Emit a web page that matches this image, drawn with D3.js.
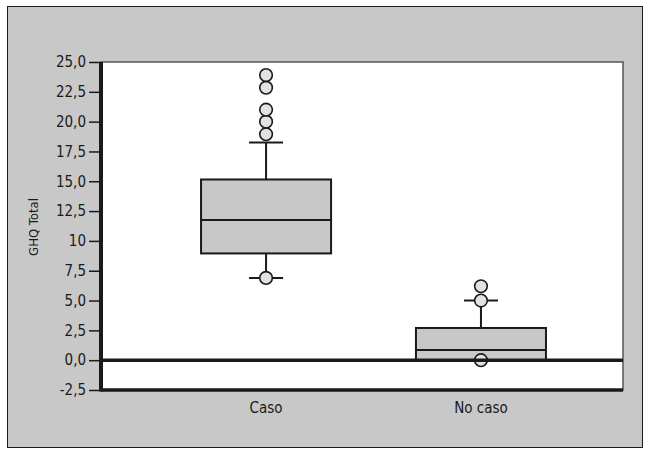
<!DOCTYPE html>
<html>
<head>
<meta charset="utf-8">
<script src="https://cdn.jsdelivr.net/npm/d3@7"></script>
<style>
    body { margin: 0; background: #fff; }
    svg text { font-family: "DejaVu Sans", sans-serif; font-stretch: condensed; fill: #1a1a1a; }
</style>
</head>
<body>
<div id="chart"></div>
<script>
// groups and their box statistics (GHQ Total)
var categories = ['Caso', 'No caso'];
var q1 = [8.95, 0.0];
var median = [11.75, 0.85];
var q3 = [15.15, 2.7];
var whisker_low = [6.9, 0.0];
var whisker_high = [18.25, 5.0];
var outliers = [
    [6.9, 18.95, 20.0, 21.0, 22.85, 23.9],
    [0.0, 5.0, 6.2]
];
var y_ticks = [-2.5, 0, 2.5, 5, 7.5, 10, 12.5, 15, 17.5, 20, 22.5, 25];
var y_tick_labels = ['-2,5', '0,0', '2,5', '5,0', '7,5', '10', '12,5', '15,0', '17,5', '20,0', '22,5', '25,0'];
var y_label = 'GHQ Total';

var width = 651;
var height = 451;
var padding = {top: 62, bottom: 61, left: 101, right: 28};

var data = categories.map(function(c, i) {
    return {name: c, q1: q1[i], median: median[i], q3: q3[i],
            lo: whisker_low[i], hi: whisker_high[i], out: outliers[i]};
});

var svg = d3.select('#chart').append('svg')
    .attr('width', width)
    .attr('height', height);

// outer panel
svg.append('rect')
    .attr('x', 7.5).attr('y', 6.5)
    .attr('width', 635).attr('height', 441)
    .attr('fill', '#c8c8c8')
    .attr('stroke', '#1a1a1a')
    .attr('stroke-width', 1);

var x_scale = d3.scaleBand()
    .range([padding.left, width - padding.right])
    .domain(categories)
    .paddingInner(0.395)
    .paddingOuter(0.412)
    .align(0.565);

var y_scale = d3.scaleLinear()
    .range([height - padding.bottom, padding.top])
    .domain([-2.5, 25]);

// plot area
svg.append('rect')
    .attr('x', padding.left)
    .attr('y', padding.top)
    .attr('width', width - padding.right - padding.left)
    .attr('height', height - padding.bottom - padding.top)
    .attr('fill', '#fff')
    .attr('stroke', '#555')
    .attr('stroke-width', 1.5);

// y axis
var y_axis = d3.axisLeft(y_scale)
    .tickValues(y_ticks)
    .tickSize(12)
    .tickPadding(3)
    .tickFormat(function(d, i) { return y_tick_labels[i]; });

var gy = svg.append('g')
    .attr('transform', 'translate(' + padding.left + ',0)')
    .call(y_axis);
gy.select('.domain').remove();
gy.selectAll('.tick line').attr('stroke', '#1a1a1a').attr('stroke-width', 1.5);
gy.selectAll('.tick text')
    .style('font-size', '15px')
    .attr('fill', '#1a1a1a');

// axis lines
svg.append('line')
    .attr('x1', padding.left).attr('x2', padding.left)
    .attr('y1', padding.top).attr('y2', y_scale(-2.5) + 1.5)
    .attr('stroke', '#1a1a1a').attr('stroke-width', 4);
svg.append('line')
    .attr('x1', padding.left).attr('x2', width - padding.right)
    .attr('y1', y_scale(-2.5)).attr('y2', y_scale(-2.5))
    .attr('stroke', '#1a1a1a').attr('stroke-width', 3.5);

svg.append('text')
    .attr('transform', 'translate(38,' + ((padding.top + height - padding.bottom) / 2 + 1) + ') rotate(-90)')
    .attr('text-anchor', 'middle')
    .style('font-size', '13px')
    .text(y_label);

// x labels
svg.selectAll('text.x-label')
    .data(categories)
    .enter()
    .append('text')
    .attr('class', 'x-label')
    .attr('x', function(d) { return x_scale(d) + x_scale.bandwidth() / 2; })
    .attr('y', y_scale(-2.5) + 23)
    .attr('text-anchor', 'middle')
    .style('font-size', '15px')
    .text(function(d) { return d; });

// boxes
var boxes = svg.selectAll('g.box')
    .data(data)
    .enter()
    .append('g')
    .attr('class', 'box');

var cx = function(d) { return x_scale(d.name) + x_scale.bandwidth() / 2; };
var cap = 17;

boxes.append('line')
    .attr('x1', cx).attr('x2', cx)
    .attr('y1', function(d) { return y_scale(d.hi); })
    .attr('y2', function(d) { return y_scale(d.lo); })
    .attr('stroke', '#1a1a1a').attr('stroke-width', 2);

boxes.append('line')
    .attr('x1', function(d) { return cx(d) - cap; })
    .attr('x2', function(d) { return cx(d) + cap; })
    .attr('y1', function(d) { return y_scale(d.hi); })
    .attr('y2', function(d) { return y_scale(d.hi); })
    .attr('stroke', '#1a1a1a').attr('stroke-width', 2);

boxes.append('line')
    .attr('x1', function(d) { return cx(d) - cap; })
    .attr('x2', function(d) { return cx(d) + cap; })
    .attr('y1', function(d) { return y_scale(d.lo); })
    .attr('y2', function(d) { return y_scale(d.lo); })
    .attr('stroke', '#1a1a1a').attr('stroke-width', 2);

boxes.append('rect')
    .attr('x', function(d) { return x_scale(d.name); })
    .attr('width', x_scale.bandwidth())
    .attr('y', function(d) { return y_scale(d.q3); })
    .attr('height', function(d) { return y_scale(d.q1) - y_scale(d.q3); })
    .attr('fill', '#c8c8c8')
    .attr('stroke', '#1a1a1a').attr('stroke-width', 2);

boxes.append('line')
    .attr('x1', function(d) { return x_scale(d.name); })
    .attr('x2', function(d) { return x_scale(d.name) + x_scale.bandwidth(); })
    .attr('y1', function(d) { return y_scale(d.median); })
    .attr('y2', function(d) { return y_scale(d.median); })
    .attr('stroke', '#1a1a1a').attr('stroke-width', 2);

// zero reference line
svg.append('line')
    .attr('x1', padding.left).attr('x2', width - padding.right)
    .attr('y1', y_scale(0)).attr('y2', y_scale(0))
    .attr('stroke', '#1a1a1a').attr('stroke-width', 3.5);

// outliers
boxes.selectAll('circle')
    .data(function(d) { return d.out.map(function(v) { return {name: d.name, v: v}; }); })
    .enter()
    .append('circle')
    .attr('cx', cx)
    .attr('cy', function(d) { return y_scale(d.v); })
    .attr('r', 6.3)
    .attr('fill', '#e2e2e2')
    .attr('stroke', '#1a1a1a').attr('stroke-width', 1.6);
</script>
</body>
</html>
